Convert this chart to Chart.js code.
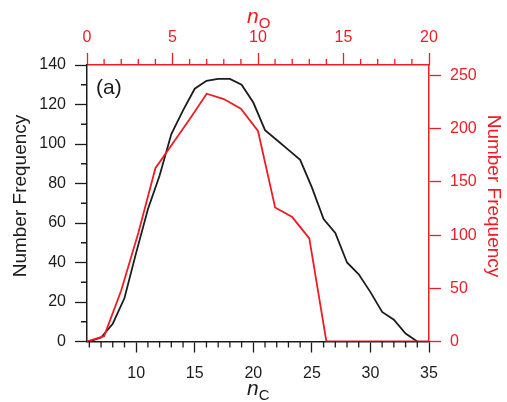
<!DOCTYPE html>
<html>
<head>
<meta charset="utf-8">
<script src="https://cdn.jsdelivr.net/npm/chart.js@4"></script>
<style>
  html, body { margin: 0; padding: 0; background: #fff; }
  #wrap { width: 507px; height: 402px; position: relative; }
</style>
</head>
<body>
<div id="wrap"><canvas id="chart"></canvas></div>
<script>
// carbon count distribution (black, bottom + left axes)
const nC = [6, 7, 8, 9, 10, 11, 12, 13, 14, 15, 16, 17, 18, 19, 20, 21, 22, 23, 24, 25, 26, 27, 28, 29, 30, 31, 32, 33, 34];
const countC = [0, 2, 9, 22, 45, 67, 84, 105, 117, 128, 132, 133, 133, 130, 121, 107, 102, 97, 92, 78, 62, 55, 40, 34, 25, 15, 11, 4, 0];

// oxygen count distribution (red, top + right axes)
const nO = [0, 1, 2, 3, 4, 5, 6, 7, 8, 9, 10, 11, 12, 13, 14, 15, 16, 17, 18, 19, 20];
const countO = [0, 5, 48, 102, 163, 186, 209, 233, 228, 219, 198, 126, 117, 97, 0, 0, 0, 0, 0, 0, 0];

const cTicks = [10, 15, 20, 25, 30, 35];
const oTicks = [0, 5, 10, 15, 20];
const leftTicks = [0, 20, 40, 60, 80, 100, 120, 140];
const rightTicks = [0, 50, 100, 150, 200, 250];

const RED = '#ee1c24';
const INK = '#1c1c1c';
const FONT = 'Arial, "Liberation Sans", sans-serif';

function fixed(size) {
  return scale => {
    if (scale.isHorizontal()) scale.height = size;
    else scale.width = size;
  };
}
function setTicks(list) {
  return scale => { scale.ticks = list.map(v => ({ value: v })); };
}

// minor tick marks, titles with subscripts and the panel tag
const decorations = {
  id: 'decorations',
  afterDraw(chart) {
    const { ctx, chartArea: a, scales } = chart;
    ctx.save();
    ctx.lineWidth = 1.3;

    const minor = (scale, values, len, color) => {
      ctx.strokeStyle = color;
      ctx.beginPath();
      values.forEach(v => {
        const p = scale.getPixelForValue(v);
        if (scale.position === 'bottom') { ctx.moveTo(p, a.bottom); ctx.lineTo(p, a.bottom + len); }
        if (scale.position === 'top') { ctx.moveTo(p, a.top); ctx.lineTo(p, a.top - len); }
        if (scale.position === 'left') { ctx.moveTo(a.left, p); ctx.lineTo(a.left - len, p); }
      });
      ctx.stroke();
    };
    const ints = (from, to) => {
      const out = [];
      for (let i = from; i <= to; i++) if (i % 5 !== 0) out.push(i);
      return out;
    };
    minor(scales.x, ints(6, 34), 6, INK);
    minor(scales.x2, ints(1, 19), 6, RED);
    minor(scales.y, [10, 30, 50, 70, 90, 110, 130], 6, INK);

    // y titles
    ctx.font = '19px ' + FONT;
    ctx.textAlign = 'center';
    ctx.textBaseline = 'middle';
    ctx.fillStyle = INK;
    ctx.save();
    ctx.translate(21, 196);
    ctx.rotate(-Math.PI / 2);
    ctx.fillText('Number Frequency', 0, 0);
    ctx.restore();
    ctx.fillStyle = RED;
    ctx.save();
    ctx.translate(493, 196);
    ctx.rotate(Math.PI / 2);
    ctx.fillText('Number Frequency', 0, 0);
    ctx.restore();

    // x titles: italic n with upright subscript
    const subTitle = (x, y, sub, color) => {
      ctx.fillStyle = color;
      ctx.textAlign = 'left';
      ctx.textBaseline = 'alphabetic';
      ctx.font = 'italic 21px ' + FONT;
      ctx.fillText('n', x, y);
      const w = ctx.measureText('n').width;
      ctx.font = '15px ' + FONT;
      ctx.fillText(sub, x + w, y + 5);
    };
    subTitle(247, 395, 'C', INK);
    subTitle(247, 23, 'O', RED);

    // panel tag
    ctx.fillStyle = INK;
    ctx.font = '21px ' + FONT;
    ctx.textAlign = 'left';
    ctx.textBaseline = 'middle';
    ctx.fillText('(a)', 96, 88);
    ctx.restore();
  }
};

new Chart(document.getElementById('chart'), {
  type: 'line',
  data: {
    datasets: [
      {
        label: 'O',
        data: nO.map((v, i) => ({ x: v, y: countO[i] })),
        xAxisID: 'x2',
        yAxisID: 'y2',
        borderColor: RED,
        borderWidth: 1.8,
        pointRadius: 0,
        tension: 0
      },
      {
        label: 'C',
        data: nC.map((v, i) => ({ x: v, y: countC[i] })),
        xAxisID: 'x',
        yAxisID: 'y',
        borderColor: INK,
        borderWidth: 1.8,
        pointRadius: 0,
        tension: 0
      }
    ]
  },
  options: {
    responsive: true,
    maintainAspectRatio: false,
    animation: false,
    layout: { padding: 0 },
    plugins: { legend: { display: false }, tooltip: { enabled: false } },
    scales: {
      x: {
        type: 'linear', position: 'bottom', min: 5.8, max: 35,
        afterBuildTicks: setTicks(cTicks), afterFit: fixed(60.5),
        grid: { drawOnChartArea: false, tickLength: 11, color: INK, tickWidth: 1.3 },
        border: { color: INK, width: 1.5 },
        ticks: { font: { family: FONT, size: 16 }, color: INK, padding: 11, maxRotation: 0, autoSkip: false }
      },
      x2: {
        type: 'linear', position: 'top', min: 0, max: 20,
        afterBuildTicks: setTicks(oTicks), afterFit: fixed(65),
        grid: { drawOnChartArea: false, tickLength: 12, color: RED, tickWidth: 1.3 },
        border: { color: RED, width: 1.5 },
        ticks: { font: { family: FONT, size: 16 }, color: RED, padding: 6, maxRotation: 0, autoSkip: false }
      },
      y: {
        type: 'linear', position: 'left', min: 0, max: 140,
        afterBuildTicks: setTicks(leftTicks), afterFit: fixed(87),
        grid: { drawOnChartArea: false, tickLength: 12, color: INK, tickWidth: 1.3 },
        border: { color: INK, width: 1.5 },
        ticks: { font: { family: FONT, size: 16 }, color: INK, padding: 9, autoSkip: false }
      },
      y2: {
        type: 'linear', position: 'right', min: 0, max: 260,
        afterBuildTicks: setTicks(rightTicks), afterFit: fixed(78),
        grid: { drawOnChartArea: false, tickLength: 12, color: RED, tickWidth: 1.3 },
        border: { color: RED, width: 1.5 },
        ticks: { font: { family: FONT, size: 16 }, color: RED, padding: 9, autoSkip: false }
      }
    }
  },
  plugins: [decorations]
});
</script>
</body>
</html>
